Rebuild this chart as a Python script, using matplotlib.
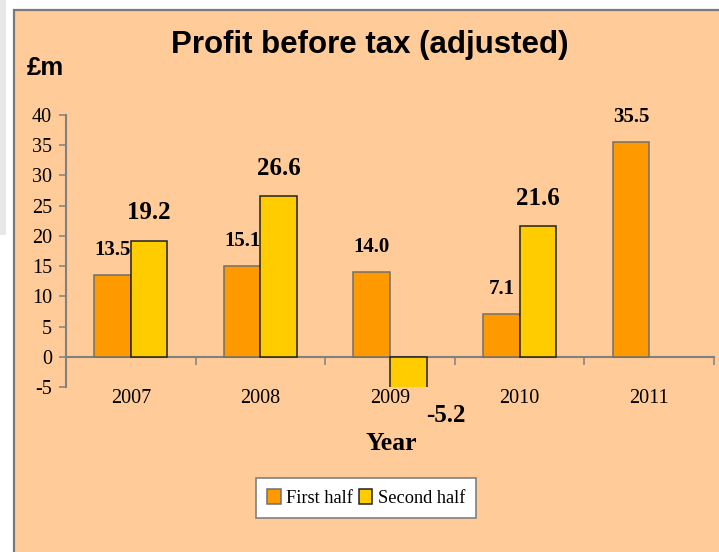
import matplotlib
matplotlib.use("Agg")
import matplotlib.pyplot as plt
from matplotlib.patches import Rectangle
import numpy as np

years = ["2007", "2008", "2009", "2010", "2011"]
first_half = [13.5, 15.1, 14.0, 7.1, 35.5]
second_half = [19.2, 26.6, -5.2, 21.6, None]
series_names = ["First half", "Second half"]
yticks = [-5, 0, 5, 10, 15, 20, 25, 30, 35, 40]

serif = "Liberation Serif"
sans = "Liberation Sans"
plt.rcParams["font.family"] = [serif, "DejaVu Sans"]
plt.rcParams["font.size"] = 14.5

W, H = 719, 552
fig = plt.figure(figsize=(W / 100, H / 100), dpi=100, facecolor="white")

# background decorations
fig.patches.append(Rectangle((0, 1 - 235 / H), 6 / W, 235 / H, transform=fig.transFigure,
                             facecolor="#e8e8e8", edgecolor="none", zorder=-10))
fig.patches.append(Rectangle((13.5 / W, -0.05), 1.0, 1 - 10 / H + 0.05, transform=fig.transFigure,
                             facecolor="#FFCC99", edgecolor="#7a7a7a", linewidth=1.6, zorder=-10))

left, right = 66 / W, 714 / W
bottom, top = 1 - 387 / H, 1 - 115 / H
ax = fig.add_axes([left, bottom, right - left, top - bottom])
ax.set_facecolor("none")
ax.set_zorder(1)

orange = "#FF9900"
yellow = "#FFCC00"

x = np.arange(len(years))
w = 0.282
fh = np.array(first_half, dtype=float)
sh = np.array([np.nan if v is None else v for v in second_half], dtype=float)
b1 = ax.bar(x - w / 2, fh, w, color=orange, edgecolor="#707070", linewidth=1.1, label=series_names[0], zorder=3)
mask = ~np.isnan(sh)
b2 = ax.bar((x + w / 2)[mask], sh[mask], w, color=yellow, edgecolor="#222222", linewidth=1.1,
            label=series_names[1], zorder=3)

for xi, v in zip(x - w / 2, fh):
    ax.annotate(f"{v:.1f}", (xi, v), xytext=(0, 18), textcoords="offset points",
                ha="center", va="center", fontsize=15, fontweight="bold", family=serif,
                annotation_clip=False)
for xi, v in zip((x + w / 2)[mask], sh[mask]):
    if v >= 0:
        ax.annotate(f"{v:.1f}", (xi, v), xytext=(0, 20), textcoords="offset points",
                    ha="center", va="center", fontsize=18, fontweight="bold", family=serif,
                    annotation_clip=False)
    else:
        ax.annotate(f"{v:.1f}", (xi, v), xytext=(27, -20), textcoords="offset points",
                    ha="center", va="center", fontsize=18, fontweight="bold", family=serif,
                    annotation_clip=False)

ax.set_xlim(-0.5, len(years) - 0.5)
ax.set_ylim(-5, 40)
ax.set_yticks(yticks)
ax.set_yticklabels([str(t) for t in yticks])
ax.set_xticks(x)
ax.set_xticklabels(years)
ax.set_xticks(np.arange(len(years)) + 0.5, minor=True)
ax.tick_params(axis="x", which="major", length=0, pad=23, labelsize=14.5)
ax.tick_params(axis="x", which="minor", length=6, width=1.1, direction="out", color="#808080")
ax.tick_params(axis="y", length=5, width=1.1, direction="out", color="#808080", pad=5, labelsize=14.5)

for s in ["top", "right"]:
    ax.spines[s].set_visible(False)
ax.spines["bottom"].set_position(("data", 0))
for s in ["left", "bottom"]:
    ax.spines[s].set_color("#808080")
    ax.spines[s].set_linewidth(1.5)

fig.text(370 / W, 1 - 45 / H, "Profit before tax (adjusted)", ha="center", va="center",
         family=sans, fontweight="bold", fontsize=22.5)
fig.text(27 / W, 1 - 68 / H, "£m", ha="left", va="center", family=sans, fontweight="bold", fontsize=18.5)
fig.text(391 / W, 1 - 443 / H, "Year", ha="center", va="center", family=serif, fontweight="bold", fontsize=18.5)

leg = fig.legend(handles=[b1, b2], labels=series_names, loc="center", bbox_to_anchor=(366 / W, 1 - 498 / H),
                 ncol=2, frameon=True, fancybox=False, shadow=False, framealpha=1, edgecolor="#808080",
                 facecolor="white", prop={"family": serif, "size": 13.2}, handlelength=0.75, handleheight=0.9,
                 handletextpad=0.3, columnspacing=0.3, borderpad=0.6, borderaxespad=0)
leg.get_frame().set_linewidth(1.2)

fig.savefig("out.png", dpi=100, facecolor="white")
